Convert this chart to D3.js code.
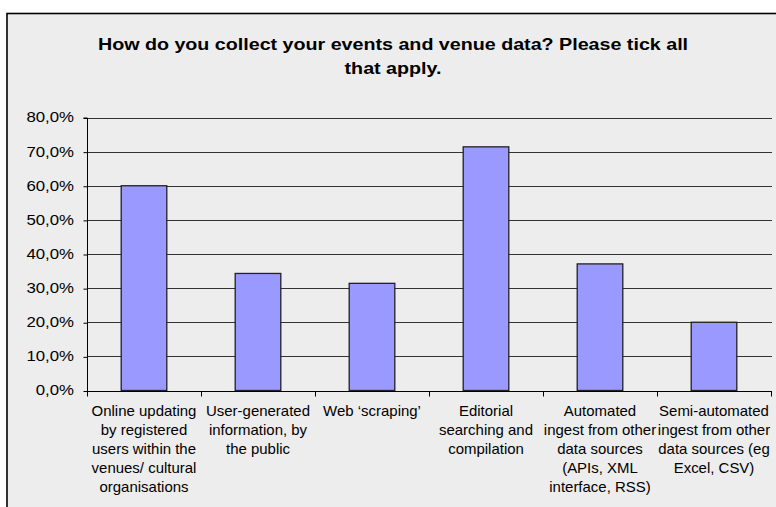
<!DOCTYPE html>
<html><head><meta charset="utf-8">
<script src="https://cdn.jsdelivr.net/npm/d3@7"></script>
<style>html,body{margin:0;padding:0;background:#fff;}svg{display:block;}</style>
</head><body>
<svg id="chart" width="776" height="507"></svg>
<script>
const categories = [
  "Online updating by registered users within the venues/ cultural organisations",
  "User-generated information, by the public",
  "Web ‘scraping’",
  "Editorial searching and compilation",
  "Automated ingest from other data sources (APIs, XML interface, RSS)",
  "Semi-automated ingest from other data sources (eg Excel, CSV)"
];
const categoryLines = [
  ["Online updating","by registered","users within the","venues/ cultural","organisations"],
  ["User-generated","information, by","the public"],
  ["Web ‘scraping’"],
  ["Editorial","searching and","compilation"],
  ["Automated","ingest from other","data sources","(APIs, XML","interface, RSS)"],
  ["Semi-automated","ingest from other","data sources (eg","Excel, CSV)"]
];
const values = [60.0, 34.3, 31.4, 71.4, 37.1, 20.0];
const yTicks = [0, 10, 20, 30, 40, 50, 60, 70, 80];
const titleLines = ["How do you collect your events and venue data? Please tick all", "that apply."];

(function () {
const svg = d3.select("#chart");
const font = "'Liberation Sans', Arial, sans-serif";

// chart box
svg.append("rect").attr("x", 7).attr("y", 13.5).attr("width", 780).attr("height", 510)
  .attr("fill", "#ededed").attr("stroke", "#000").attr("stroke-width", 1.6);

// title (horizontally stretched like the reference)
svg.append("g").selectAll("g").data(titleLines).join("g")
  .attr("transform", (d, i) => `translate(393,${50 + i * 24}) scale(1.23,1)`)
  .append("text")
  .attr("text-anchor", "middle").attr("font-family", font).attr("font-weight", "bold")
  .attr("font-size", 16).attr("fill", "#000").text(d => d);

const pl = 87, pr = 771, pt = 117.5, pb = 390.5;
const x = d3.scaleBand().domain(categories).range([pl, pr]).paddingInner(0.6).paddingOuter(0.3);
const y = d3.scaleLinear().domain([0, 80]).range([pb, pt]);

// gridlines
svg.append("g").selectAll("line").data(yTicks.filter(t => t > 0)).join("line")
  .attr("x1", pl).attr("x2", pr + 1)
  .attr("y1", d => Math.round(y(d)) + 0.5).attr("y2", d => Math.round(y(d)) + 0.5)
  .attr("stroke", "#333").attr("stroke-width", 1);

// bars
svg.append("g").selectAll("rect").data(values).join("rect")
  .attr("x", (d, i) => x(categories[i]))
  .attr("y", d => y(d))
  .attr("width", x.bandwidth())
  .attr("height", d => y(0) - y(d))
  .attr("fill", "#9999ff").attr("stroke", "#222").attr("stroke-width", 1.3);

// y axis
const fmt = d => d3.format(".1f")(d).replace(".", ",") + "%";
const yAxis = d3.axisLeft(y).tickValues(yTicks).tickSize(4).tickFormat(() => "");
const yg = svg.append("g").attr("transform", `translate(${pl + 0.5},0.5)`).call(yAxis);
yg.select(".domain").attr("stroke", "#000").attr("d", `M-4,${pt}H0V${pb}`);
yg.selectAll("line").attr("stroke", "#000");
svg.append("g").selectAll("g").data(yTicks).join("g")
  .attr("transform", d => `translate(74,${y(d)}) scale(1.2,1)`)
  .append("text").attr("text-anchor", "end").attr("dy", "0.35em")
  .attr("font-family", font).attr("font-size", 14).attr("fill", "#000").text(fmt);

// x axis
const xg = svg.append("g").attr("transform", `translate(0,${Math.round(pb) + 0.5})`);
xg.append("line").attr("x1", pl).attr("x2", pr + 1).attr("y1", 0).attr("y2", 0).attr("stroke", "#000");
const bounds = categories.map(c => x(c) - x.step() * x.paddingOuter()).concat([pr]);
xg.selectAll("line.tk").data(bounds).join("line").attr("class", "tk")
  .attr("x1", d => Math.round(d) + 0.5).attr("x2", d => Math.round(d) + 0.5)
  .attr("y1", 0).attr("y2", 5).attr("stroke", "#000");

const lbl = svg.append("g").selectAll("g").data(categories).join("g")
  .attr("transform", d => `translate(${x(d) + x.bandwidth() / 2},0) scale(1.07,1)`)
  .append("text")
  .attr("text-anchor", "middle").attr("font-family", font).attr("font-size", 14).attr("fill", "#000");
lbl.each(function(d, i) {
  d3.select(this).selectAll("tspan").data(categoryLines[i]).join("tspan")
    .attr("x", 0)
    .attr("y", (t, j) => 416 + j * 19)
    .text(t => t);
});
})();
</script>
</body></html>
